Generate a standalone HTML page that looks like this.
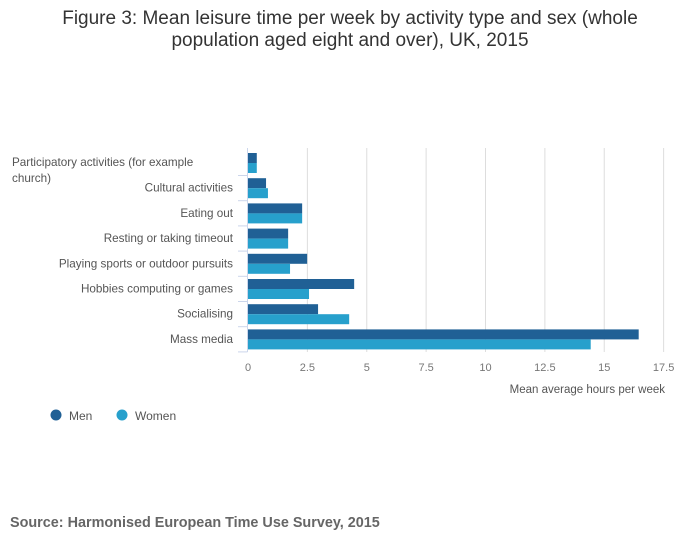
<!DOCTYPE html>
<html><head><meta charset="utf-8"><style>
body{margin:0;background:#fff;font-family:"Liberation Sans",sans-serif;}
svg text{font-family:"Liberation Sans",sans-serif;}
</style></head><body>
<svg id="chart" width="700" height="549">
<text x="350" y="24" text-anchor="middle" font-size="19" fill="#333">Figure 3: Mean leisure time per week by activity type and sex (whole</text>
<text x="350" y="46" text-anchor="middle" font-size="19" fill="#333">population aged eight and over), UK, 2015</text>
<g id="grid"></g><g id="bars"></g><g id="labels"></g>
<text x="665" y="393" text-anchor="end" font-size="11.5" fill="#555">Mean average hours per week</text>
<g>
<circle cx="56" cy="415" r="5.5" fill="#206095"/>
<text x="69" y="420" font-size="12" fill="#555">Men</text>
<circle cx="122" cy="415" r="5.5" fill="#27a0cc"/>
<text x="135" y="420" font-size="12" fill="#555">Women</text>
</g>
<text x="10" y="527" font-size="14.4" font-weight="bold" fill="#666">Source: Harmonised European Time Use Survey, 2015</text>
</svg>
<script>
const categories=["Participatory activities (for example church)","Cultural activities","Eating out","Resting or taking timeout","Playing sports or outdoor pursuits","Hobbies computing or games","Socialising","Mass media"];
const men=[0.37,0.76,2.28,1.69,2.49,4.47,2.95,16.45];
const women=[0.37,0.84,2.28,1.69,1.77,2.57,4.26,14.43];
const ticks=[0,2.5,5,7.5,10,12.5,15,17.5];
const tickLabels=["0","2.5","5","7.5","10","12.5","15","17.5"];
const NS="http://www.w3.org/2000/svg";
const x0=248,k=23.75,yTop=150.5,pitch=25.2;
const xs=v=>x0+v*k;
function mk(t,a,p){const e=document.createElementNS(NS,t);for(const n in a)e.setAttribute(n,a[n]);p.appendChild(e);return e;}
const grid=document.getElementById('grid'),bars=document.getElementById('bars'),lab=document.getElementById('labels');
ticks.forEach((t,i)=>{
 if(i>0){const g=mk('line',{x1:xs(t),x2:xs(t),y1:148,y2:352,stroke:'#ddd','stroke-width':1},grid);
 
 }
 const tx=mk('text',{x:xs(t),y:371,'text-anchor':'middle','font-size':11,fill:'#777'},lab);tx.textContent=tickLabels[i];
 
 
});
const ax=mk('line',{x1:247.5,x2:247.5,y1:148,y2:352,stroke:'#ccd6eb'},grid);


categories.forEach((c,i)=>{
 const y=yTop+i*pitch;
 const tk=mk('line',{x1:238,x2:247.5,y1:y+25,y2:y+25,stroke:'#ccd6eb'},grid);
 
 
 const b1=mk('rect',{x:x0,y:y+2.5,width:xs(men[i])-x0,height:10,fill:'#206095'},bars);
 
 
 const b2=mk('rect',{x:x0,y:y+12.5,width:xs(women[i])-x0,height:10,fill:'#27a0cc'},bars);
 
 
 if(i===0){
  const a=mk('text',{x:12,y:166,'font-size':11.7,fill:'#555'},lab);a.textContent="Participatory activities (for example";
  
  
  const b=mk('text',{x:12,y:182,'font-size':11.7,fill:'#555'},lab);b.textContent="church)";
  
  
 } else {
  const t=mk('text',{x:233,y:y+16,'text-anchor':'end','font-size':11.7,fill:'#555'},lab);t.textContent=c;
  
  
 }
});
</script>
</body></html>
